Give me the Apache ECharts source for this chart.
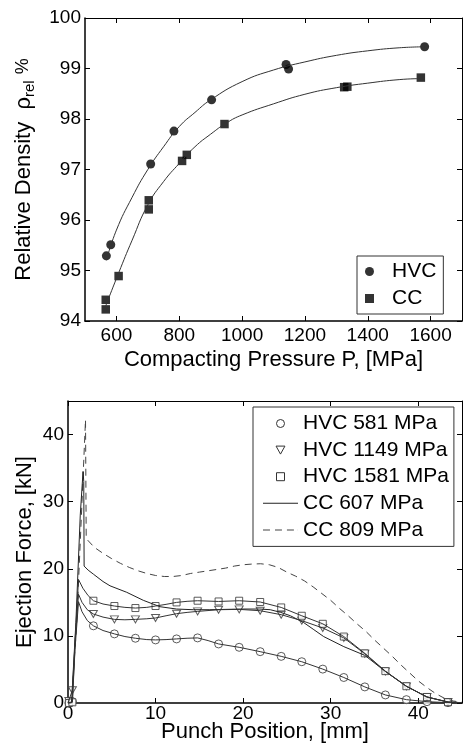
<!DOCTYPE html>
<html><head><meta charset="utf-8">
<script src="https://cdn.jsdelivr.net/npm/echarts@6/dist/echarts.min.js"></script>
<style>html,body{margin:0;padding:0;background:#fff}#c{width:464px;height:755px}</style>
</head><body><div id="c"></div>
<script>
const FONT = "'Liberation Sans', Arial, Helvetica, sans-serif";

// ---------- Top chart: relative density vs compacting pressure ----------
const hvcPressure = [568, 582, 709, 783, 903, 1140, 1148, 1581];
const hvcDensity  = [95.29, 95.51, 97.11, 97.76, 98.38, 99.08, 98.99, 99.43];
const ccPressure  = [566, 566, 607, 703, 703, 809, 824, 944, 1325, 1335, 1569];
const ccDensity   = [94.23, 94.42, 94.89, 96.21, 96.39, 97.17, 97.29, 97.90, 98.63, 98.64, 98.82];
const hvcFitPressure = [568, 600, 650, 700, 750, 800, 850, 900, 1000, 1100, 1200, 1300, 1400, 1500, 1581];
const hvcFitDensity  = [95.2, 95.8, 96.45, 97.0, 97.45, 97.85, 98.13, 98.38, 98.74, 98.97, 99.13, 99.26, 99.35, 99.41, 99.43];
const ccFitPressure  = [566, 607, 650, 700, 750, 800, 850, 900, 950, 1000, 1100, 1200, 1300, 1400, 1500, 1569];
const ccFitDensity   = [94.3, 94.95, 95.6, 96.3, 96.76, 97.12, 97.45, 97.7, 97.92, 98.08, 98.3, 98.49, 98.62, 98.71, 98.78, 98.8];
const pressureTicks = [600, 800, 1000, 1200, 1400, 1600];
const densityTicks  = [94, 95, 96, 97, 98, 99, 100];

// ---------- Bottom chart: ejection force vs punch position ----------
const markerPos = [0.1, 0.5, 2.9, 5.3, 7.7, 10.0, 12.4, 14.8, 17.2, 19.55, 21.95, 24.35, 26.7, 29.1, 31.5, 33.9, 36.25, 38.65, 41.0, 43.4];
const hvc581Markers  = [0, 0.2, 11.5, 10.3, 9.65, 9.4, 9.55, 9.7, 8.8, 8.3, 7.65, 6.95, 6.15, 5.05, 3.8, 2.4, 1.2, 0.5, 0.2, 0.05];
const hvc1149Markers = [0.3, 1.9, 13.26, 12.46, 12.46, 12.67, 13.31, 13.65, 13.9, 13.95, 13.75, 13.16, 12.27, 11.18, 9.7, 7.33, 4.7, 2.48, 0.89, 0.15];
const hvc1581Markers = [0, 0.1, 15.24, 14.45, 14.15, 14.45, 14.99, 15.24, 15.13, 15.24, 15.05, 14.24, 13.0, 11.8, 9.9, 7.4, 4.75, 2.5, 0.9, 0.12];

const hvc581LineX  = [0, 0.5, 0.8, 1.2, 1.6, 2.2, 2.9, 4.0, 5.3, 6.5, 7.7, 9.0, 10.0, 11.2, 12.4, 13.6, 14.8, 16.0, 17.2, 19.55, 21.95, 24.35, 26.7, 29.1, 31.5, 33.9, 36.25, 38.65, 41.0, 43.4, 45];
const hvc581LineY  = [0, 0.2, 8, 15.1, 13.6, 12.3, 11.5, 10.8, 10.3, 9.9, 9.65, 9.45, 9.4, 9.45, 9.55, 9.65, 9.7, 9.3, 8.8, 8.3, 7.65, 6.95, 6.15, 5.05, 3.8, 2.4, 1.2, 0.5, 0.2, 0.05, 0];
const hvc1149LineX = [0, 0.5, 0.8, 1.2, 1.6, 2.2, 2.9, 4.0, 5.3, 6.5, 7.7, 9.0, 10.0, 11.2, 12.4, 13.6, 14.8, 17.2, 19.55, 21.95, 24.35, 26.7, 29.1, 31.5, 33.9, 36.25, 38.65, 41.0, 43.4, 45];
const hvc1149LineY = [0, 1.9, 9, 16.2, 15.0, 13.9, 13.26, 12.8, 12.46, 12.4, 12.46, 12.55, 12.67, 13.0, 13.31, 13.5, 13.65, 13.9, 13.95, 13.75, 13.16, 12.27, 11.18, 9.7, 7.33, 4.7, 2.48, 0.89, 0.15, 0.05];
const hvc1581LineX = [0, 0.5, 0.8, 1.2, 1.7, 2.3, 2.9, 4.0, 5.3, 6.5, 7.7, 9.0, 10.0, 11.2, 12.4, 13.6, 14.8, 17.2, 19.55, 21.95, 24.35, 26.7, 29.1, 31.5, 33.9, 36.25, 38.65, 41.0, 43.4, 45];
const hvc1581LineY = [0, 0.1, 9, 18.4, 17.1, 16.0, 15.24, 14.75, 14.45, 14.25, 14.15, 14.25, 14.45, 14.7, 14.99, 15.15, 15.24, 15.13, 15.24, 15.05, 14.24, 13.0, 11.8, 9.9, 7.4, 4.75, 2.5, 0.9, 0.12, 0.05];
const cc607X = [0, 0.4, 0.9, 1.4, 1.72, 1.8, 1.84, 2.3, 2.9, 4.0, 4.8, 6.7, 8.6, 10.5, 12.4, 14.3, 16.2, 18.0, 20.0, 21.9, 23.1, 24.3, 25.4, 26.9, 28.0, 29.2, 31.5, 33.9, 36.25, 38.65, 41.0, 43.4, 45];
const cc607Y = [0, 0, 12, 28, 34.5, 33, 20.4, 19.8, 19.2, 18.1, 17.46, 16.5, 15.3, 14.35, 14.0, 13.9, 13.9, 13.95, 14.0, 14.0, 13.9, 13.5, 13.0, 12.0, 11.0, 9.9, 8.4, 7.1, 4.7, 2.5, 0.9, 0.15, 0.05];
const cc809X = [0, 0.4, 1.0, 1.6, 2.0, 2.08, 3, 4, 5, 6, 7, 8, 9, 10, 11, 12, 13, 14, 15, 16, 17, 18, 19, 20, 21, 22, 23, 24, 25, 26, 27, 28, 29, 30, 31, 32, 33, 34, 35, 36, 37, 38, 39, 40, 41, 42, 43, 44, 45];
const cc809Y = [0, 0, 12, 30, 42.2, 24.5, 23.2, 22.3, 21.5, 20.8, 20.2, 19.7, 19.3, 19.0, 18.85, 18.85, 19.0, 19.3, 19.5, 19.7, 19.9, 20.1, 20.4, 20.6, 20.7, 20.75, 20.6, 20.2, 19.5, 18.9, 18.2, 17.3, 16.3, 15.3, 14.1, 13.0, 11.8, 10.7, 9.4, 8.2, 7.0, 5.7, 4.5, 3.3, 2.3, 1.4, 0.7, 0.3, 0.1];
const positionTicks = [0, 10, 20, 30, 40];
const forceTicks = [0, 10, 20, 30, 40];

const zip = (a, b) => a.map((v, i) => [v, b[i]]);

const txt = {fontFamily: FONT, color: '#000'};
const lineCol = '#000';
function axisBase(extra, w) {
  return Object.assign({
    type: 'value',
    axisLine: {show: true, onZero: false, lineStyle: {color: lineCol, width: w || 1}},
    splitLine: {show: false},
    nameMoveOverlap: false
  }, extra);
}
const plain = v => String(v);
function mainX(grid, min, max, ticks, margin, name, gap) {
  return axisBase({gridIndex: grid, min, max, position: 'bottom',
    axisTick: {show: true, inside: true, length: 5, customValues: ticks, lineStyle: {color: lineCol}},
    axisLabel: {customValues: ticks, formatter: plain, fontSize: 19, margin, ...txt},
    name, nameLocation: 'middle', nameGap: gap, nameTextStyle: {fontSize: 22, ...txt}}, 1.5);
}
function mainY(grid, min, max, ticks, name, gap, rich) {
  return axisBase({gridIndex: grid, min, max, position: 'left',
    axisTick: {show: true, inside: true, length: 5, customValues: ticks, lineStyle: {color: lineCol}},
    axisLabel: {customValues: ticks, formatter: plain, fontSize: 19, margin: 4, ...txt},
    name, nameLocation: 'middle', nameRotate: 90, nameGap: gap,
    nameTextStyle: Object.assign({fontSize: 22, ...txt}, rich ? {rich} : {})}, 1.5);
}
function mirror(grid, min, max, ticks, pos) {
  return axisBase({gridIndex: grid, min, max, position: pos,
    axisTick: {show: true, inside: true, length: 5, customValues: ticks, lineStyle: {color: lineCol}},
    axisLabel: {show: false, customValues: ticks}}, 1);
}

const hollow = {color: '#fff', borderColor: '#333', borderWidth: 1};

const option = {
  animation: false,
  backgroundColor: '#fff',
  textStyle: {fontFamily: FONT},
  grid: [
    {left: 85, top: 18, width: 377, height: 303, containLabel: false, outerBoundsMode: 'none'},
    {left: 68, top: 401, width: 394, height: 302, containLabel: false, outerBoundsMode: 'none'}
  ],
  xAxis: [
    mainX(0, 500, 1700, pressureTicks, 5, 'Compacting Pressure P, [MPa]', 28),
    mirror(0, 500, 1700, pressureTicks, 'top'),
    mainX(1, 0, 45, positionTicks, 1, 'Punch Position, [mm]', 18),
    mirror(1, 0, 45, positionTicks, 'top')
  ],
  yAxis: [
    mainY(0, 94, 100, densityTicks, 'Relative Density  ρ{sub|rel} {sup|%}', 48,
      {sub: {fontSize: 15, padding: [12, 0, 0, 0], verticalAlign: 'bottom', fontFamily: FONT, color: '#000'},
       sup: {fontSize: 18, verticalAlign: 'middle', fontFamily: FONT, color: '#000'}}),
    mirror(0, 94, 100, densityTicks, 'right'),
    mainY(1, 0, 45, forceTicks, 'Ejection Force, [kN]', 32),
    mirror(1, 0, 45, forceTicks, 'right')
  ],
  legend: [
    {orient: 'vertical', left: 357, top: 256, padding: [5, 7, 5, 8], itemGap: 6,
     itemWidth: 35, itemHeight: 9, borderColor: '#333', borderWidth: 1, backgroundColor: '#fff',
     selectedMode: false, textStyle: {fontSize: 21, ...txt},
     data: [
       {name: 'HVC', icon: 'circle', itemStyle: {color: '#000', borderWidth: 0}},
       {name: 'CC', icon: 'path://M0,0H10V10H0Z', itemStyle: {color: '#000', borderWidth: 0}}
     ]},
    {orient: 'vertical', left: 253, top: 407, padding: [6, 5, 6, 10], itemGap: 5.6,
     itemWidth: 35, itemHeight: 8, borderColor: '#333', borderWidth: 1, backgroundColor: '#fff',
     selectedMode: false, textStyle: {fontSize: 21, ...txt},
     data: [
       {name: 'HVC 581 MPa', icon: 'circle', itemStyle: hollow},
       {name: 'HVC 1149 MPa', icon: 'path://M0,0L10,0L5,9Z', itemStyle: hollow},
       {name: 'HVC 1581 MPa', icon: 'path://M0,0H10V10H0Z', itemStyle: hollow},
       {name: 'CC 607 MPa', icon: 'path://M0,0H35V1H0Z', itemStyle: {color: '#222', borderWidth: 0}},
       {name: 'CC 809 MPa', icon: 'path://M0,0H7V1H0Z M12,0H19V1H12Z M24,0H31V1H24Z M35,0H35.1V1H35Z', itemStyle: {color: '#444', borderWidth: 0}}
     ]}
  ],
  series: [
    {name: 'HVC fit', type: 'line', xAxisIndex: 0, yAxisIndex: 0, data: zip(hvcFitPressure, hvcFitDensity),
     smooth: true, symbol: 'none', lineStyle: {color: '#333', width: 1}, silent: true},
    {name: 'CC fit', type: 'line', xAxisIndex: 0, yAxisIndex: 0, data: zip(ccFitPressure, ccFitDensity),
     smooth: true, symbol: 'none', lineStyle: {color: '#333', width: 1}, silent: true},
    {name: 'HVC', type: 'scatter', xAxisIndex: 0, yAxisIndex: 0, data: zip(hvcPressure, hvcDensity),
     symbol: 'circle', symbolSize: 9, itemStyle: {color: '#000'}},
    {name: 'CC', type: 'scatter', xAxisIndex: 0, yAxisIndex: 0, data: zip(ccPressure, ccDensity),
     symbol: 'rect', symbolSize: 8.5, itemStyle: {color: '#000'}},

    {name: 'CC 809 MPa', type: 'line', xAxisIndex: 2, yAxisIndex: 2, data: zip(cc809X, cc809Y),
     symbol: 'none', lineStyle: {color: '#444', width: 1, type: [7, 5]}, itemStyle: {color: '#444'}},
    {name: 'CC 607 MPa', type: 'line', xAxisIndex: 2, yAxisIndex: 2, data: zip(cc607X, cc607Y),
     symbol: 'none', lineStyle: {color: '#222', width: 1}, itemStyle: {color: '#222'}},
    {name: 'HVC 581 MPa', type: 'line', xAxisIndex: 2, yAxisIndex: 2, data: zip(hvc581LineX, hvc581LineY),
     symbol: 'none', lineStyle: {color: '#333', width: 1}},
    {name: 'HVC 1149 MPa', type: 'line', xAxisIndex: 2, yAxisIndex: 2, data: zip(hvc1149LineX, hvc1149LineY),
     symbol: 'none', lineStyle: {color: '#333', width: 1}},
    {name: 'HVC 1581 MPa', type: 'line', xAxisIndex: 2, yAxisIndex: 2, data: zip(hvc1581LineX, hvc1581LineY),
     symbol: 'none', lineStyle: {color: '#333', width: 1}},
    {name: 'HVC 581 MPa', type: 'scatter', xAxisIndex: 2, yAxisIndex: 2, data: zip(markerPos, hvc581Markers),
     symbol: 'circle', symbolSize: 8, itemStyle: hollow},
    {name: 'HVC 1149 MPa', type: 'scatter', xAxisIndex: 2, yAxisIndex: 2, data: zip(markerPos, hvc1149Markers),
     symbol: 'triangle', symbolRotate: 180, symbolSize: [8, 7], itemStyle: hollow},
    {name: 'HVC 1581 MPa', type: 'scatter', xAxisIndex: 2, yAxisIndex: 2, data: zip(markerPos, hvc1581Markers),
     symbol: 'rect', symbolSize: 7, itemStyle: hollow}
  ]
};
const chart = echarts.init(document.getElementById('c'), null, {renderer: 'canvas'});
chart.setOption(option);
</script>
</body></html>
